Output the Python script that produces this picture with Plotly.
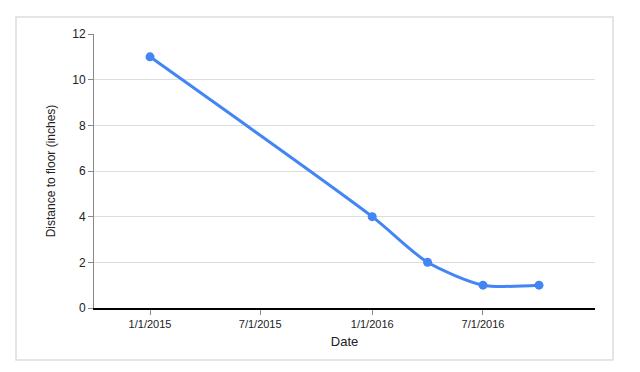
import plotly.graph_objects as go

dates = ["2015-01-01", "2016-01-01", "2016-04-01", "2016-07-01", "2016-10-01"]
distance = [11, 4, 2, 1, 1]
tick_dates = ["2015-01-01", "2015-07-01", "2016-01-01", "2016-07-01"]
tick_labels = ["1/1/2015", "7/1/2015", "1/1/2016", "7/1/2016"]
y_ticks = [0, 2, 4, 6, 8, 10, 12]

W, H = 640, 372
L, R, T, B = 94, 45, 34, 64
pw, ph = W - L - R, H - T - B

def px(x):
    return (x - L) / pw

def py(y):
    return (H - B - y) / ph

fig = go.Figure()
fig.add_trace(go.Scatter(
    x=dates, y=distance, mode="lines+markers",
    line=dict(color="#4285F4", width=3, shape="spline", smoothing=0.7),
    marker=dict(color="#4285F4", size=9),
    showlegend=False,
))

fig.update_layout(
    width=W, height=H,
    margin=dict(l=L, r=R, t=T, b=B),
    paper_bgcolor="white", plot_bgcolor="white",
    font=dict(family="Liberation Sans, Arial, sans-serif", size=11, color="#222"),
    xaxis=dict(
        range=["2014-10-01", "2017-01-01"],
        tickvals=tick_dates, ticktext=tick_labels,
        showgrid=False, showline=True, linecolor="black", linewidth=1.5,
        ticks="outside", ticklen=5, tickcolor="#888",
        zeroline=False,
        title=dict(text="Date", font=dict(size=13, color="#222"), standoff=8),
        tickfont=dict(size=11, color="#222"),
    ),
    yaxis=dict(
        range=[0, 12], tickvals=y_ticks,
        showgrid=True, gridcolor="#dddddd", gridwidth=1,
        showline=True, linecolor="#888", linewidth=1,
        ticks="outside", ticklen=5, tickcolor="#888",
        zeroline=False,
        title=dict(text="Distance to floor (inches)", font=dict(size=12, color="#222"), standoff=14),
        tickfont=dict(size=12, color="#222"),
    ),
    shapes=[dict(type="rect", xref="paper", yref="paper",
                 x0=px(16), x1=px(613), y0=py(360), y1=py(17),
                 line=dict(color="#dddddd", width=1.5), layer="below")],
)

fig.write_html("out.html")
